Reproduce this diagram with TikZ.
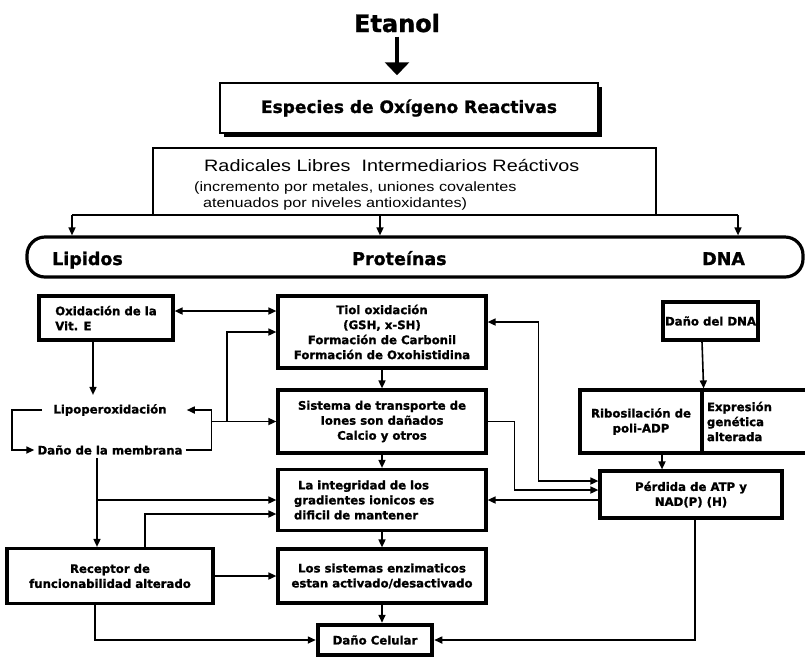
\documentclass[tikz,border=0pt]{standalone}
\usepackage{fontspec}
\setmainfont{DejaVu Sans}[BoldFeatures={FakeBold=1.2}]
\newfontfamily\radfont[FakeStretch=1.2]{Liberation Sans}
\usetikzlibrary{arrows.meta,shadows}

\tikzset{
  caja/.style={draw, line width=3.2pt, fill=white, align=center, inner sep=0pt,
    font=\fontsize{11.7}{15}\selectfont\bfseries},
  texto/.style={inner sep=3pt, font=\fontsize{11.7}{15}\selectfont\bfseries},
  barra/.style={anchor=base west, inner sep=0pt, font=\fontsize{17.5}{20}\selectfont\bfseries},
  flecha/.style={line width=1.6pt, ->},
}

\begin{document}
\begin{tikzpicture}[x=1pt, y=-1pt, >={Triangle[length=8pt,width=7pt]}]
\useasboundingbox (0,0) rectangle (805,657);

\node[anchor=base, inner sep=0pt, font=\fontsize{24}{28}\selectfont\bfseries] (etanol) at (397,32) {Etanol};

\node[draw, line width=1.5pt, fill=white, minimum width=378pt, minimum height=50pt,
  font=\fontsize{17}{20}\selectfont\bfseries,
  drop shadow={shadow xshift=4pt, shadow yshift=-4pt, opacity=1, fill=black}] (eor) at (409,108)
  {Especies de Oxígeno Reactivas};

\draw[line width=3.2pt, -{Triangle[length=13pt,width=24pt]}, shorten >=7pt, shorten <=4pt]
  (etanol.south) -- (etanol.south |- eor.north);

\node[draw, line width=1.5pt, minimum width=503pt, minimum height=67pt] (rad) at (404.5,181.5) {};
\begin{scope}[anchor=base west, inner sep=0pt]
\node[font=\radfont\fontsize{16.5}{18}\selectfont] (rad1) at (204,171) {Radicales Libres\ \ Intermediarios Reáctivos};
\node[font=\radfont\fontsize{13.5}{16}\selectfont] (rad2) at (194,191) {(incremento por metales, uniones covalentes};
\node[font=\radfont\fontsize{13.5}{16}\selectfont] (rad3) at (203,207) {atenuados por niveles antioxidantes)};
\end{scope}

% barra de lipidos, proteinas y DNA
\node[draw, line width=3.2pt, rounded corners=18pt, minimum width=776pt, minimum height=40pt] (bar) at (415,257) {};
\node[barra] (lip) at (52,265) {Lipidos};
\node[barra] (prot) at (352,265) {Proteínas};
\node[barra] (dna) at (702,265) {DNA};

\coordinate (dl) at (72,215);
\coordinate (dm) at (380,215);
\coordinate (dr) at (738,215);
\draw[line width=1.5pt] (dl) -- (dr);
\foreach \c in {dl,dm,dr}{
\draw[flecha, line width=1.5pt] (\c) -- (\c |- bar.north);
}

% cajas de abajo
\node[caja, minimum width=134pt, minimum height=44pt, align=left] (vite) at (106,318) {Oxidación de la\\Vit. E};
\node[caja, minimum width=208pt, minimum height=72pt] (tiol) at (382,332)
  {Tiol oxidación\\(GSH, x-SH)\\Formación de Carbonil\\Formación de Oxohistidina};
\node[caja, minimum width=208pt, minimum height=63pt] (sist) at (382,421.5)
  {Sistema de transporte de\\Iones son dañados\\Calcio y otros};
\node[caja, minimum width=208pt, minimum height=61pt, text width=176pt, align=left] (integ) at (382,500)
  {\hspace*{4pt}La integridad de los\\gradientes ionicos es\\dificil de mantener};
\node[caja, minimum width=208pt, minimum height=54pt] (enzim) at (382,576)
  {Los sistemas enzimaticos\\estan activado/desactivado};
\node[caja, line width=4.5pt, minimum width=114pt, minimum height=30pt] (celular) at (375,640) {Daño Celular};
\node[caja, minimum width=206pt, minimum height=55pt] (recep) at (110,576)
  {Receptor de\\funcionabilidad alterado};

\node[texto] (lipo) at (110,410) {Lipoperoxidación};
\node[texto] (memb) at (110,450) {Daño de la membrana};

\node[caja, minimum width=95pt, minimum height=38pt] (dnad) at (710.5,321) {Daño del DNA};
\node[caja, minimum width=122pt, minimum height=63pt] (ribo) at (641,421.5) {Ribosilación de\\poli-ADP};
\node[caja, minimum width=105pt, minimum height=63pt, text width=95pt, align=left] (expr) at (754.5,421.5)
  {Expresión\\genética\\alterada};
\node[caja, minimum width=182pt, minimum height=47pt] (perd) at (691,494.5) {Pérdida de ATP y\\NAD(P) (H)};

% conexiones
\draw[flecha, <->] ([yshift=7pt]vite.east) -- ([yshift=21pt]tiol.west);
\draw[flecha, shorten >=6pt] ([xshift=-13pt]vite.south) -- ([xshift=-17pt]lipo.north);
\draw[flecha] ([xshift=-8pt]lipo.west) -- ++(-30,0) |- (memb.west);
\draw[flecha, shorten >=17pt] (memb.east) -- ++(26,0) |- (lipo.east);

\coordinate (jct) at (212,421.5);
\coordinate (jct2) at (227,421.5);
\coordinate (jct3) at (97,500);
\draw[flecha] (jct) -- (sist.west);
\draw[flecha] (jct2) |- (tiol.west);

\draw[flecha] ([xshift=-13pt]memb.south) -- ([xshift=-13pt]recep.north);
\draw[flecha] (jct3) -- (integ.west);
\draw[flecha] ([xshift=35pt]recep.north) |- ([yshift=-14pt]integ.west);
\draw[flecha] (recep.east) -- (enzim.west);
\draw[flecha] ([xshift=-15pt]recep.south) |- (celular.west);

\draw[flecha] (tiol.south) -- (sist.north);
\draw[flecha] (sist.south) -- (integ.north);
\draw[flecha] (integ.south) -- (enzim.north);
\draw[flecha] (enzim.south) -- ([xshift=7pt]celular.north);

\draw[flecha] (sist.east) -- ++(27,0) |- ([yshift=4.5pt]perd.west);
\draw[flecha, <->] ([yshift=10pt]tiol.east) -- ++(51,0) |- ([yshift=13.5pt]perd.west);
\draw[flecha] ([yshift=-5.5pt]perd.west) -- (integ.east);
\draw[flecha] ([xshift=4pt]perd.south) |- (celular.east);

\draw[flecha] ([xshift=-8.5pt]dnad.south) -- (ribo.north east);
\draw[flecha] ([xshift=21pt]ribo.south) -- ([xshift=-29pt]perd.north);
\end{tikzpicture}
\end{document}
